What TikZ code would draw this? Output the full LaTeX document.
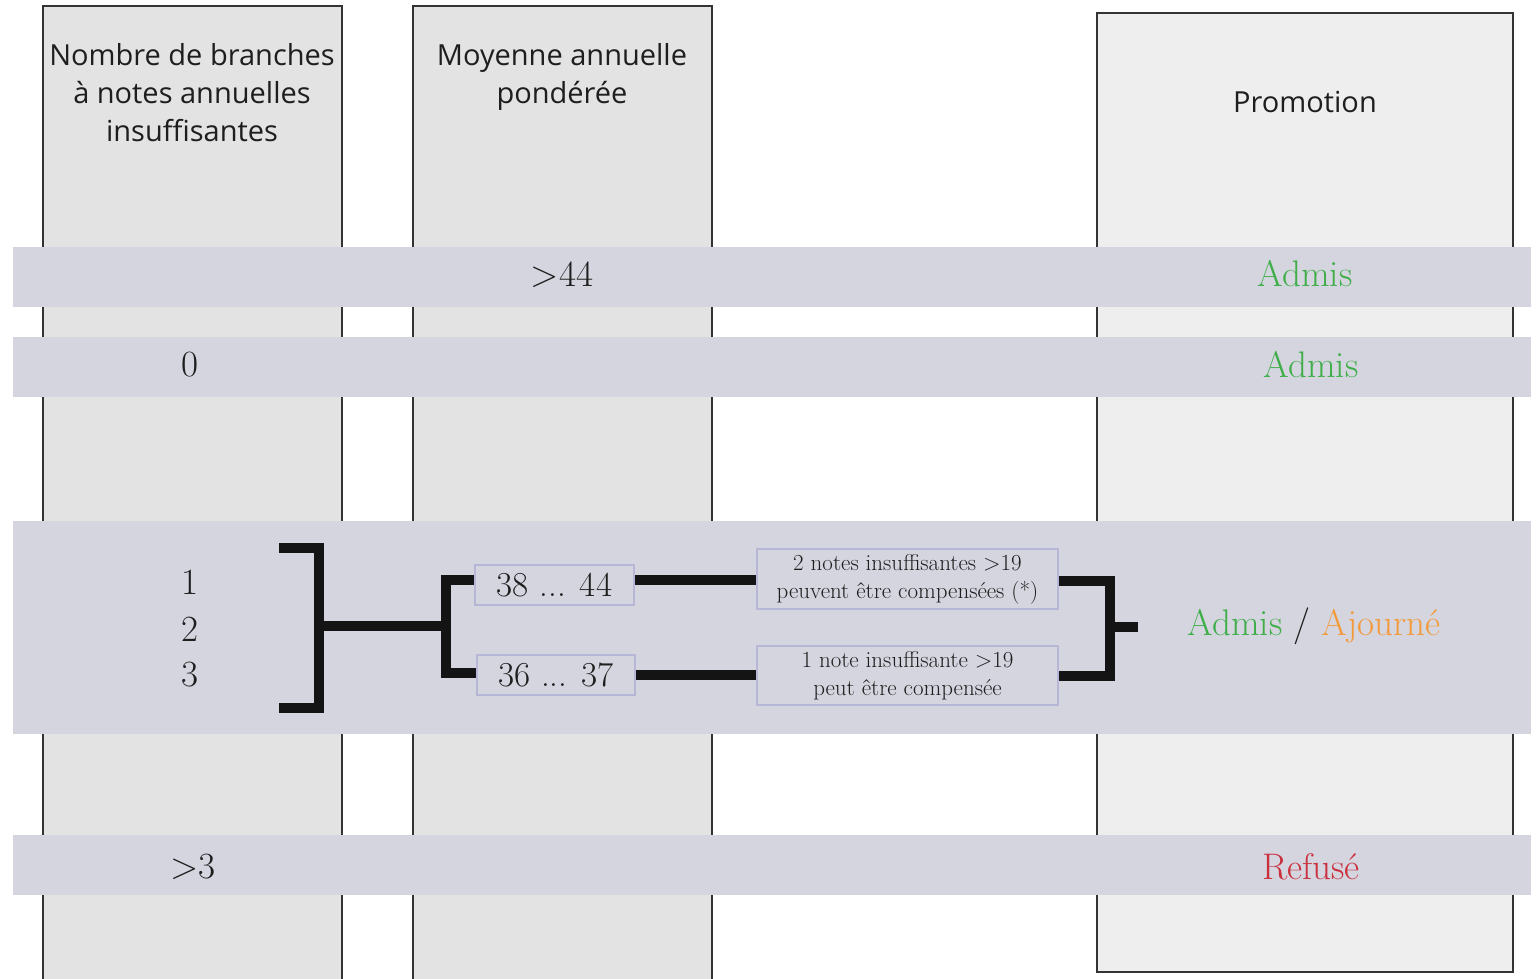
\documentclass[tikz,border=0pt]{standalone}
\usepackage{fontspec}
\newfontfamily\hdr{Open Sans}
\definecolor{colA}{HTML}{E3E3E3}
\definecolor{colB}{HTML}{EEEEEE}
\definecolor{bandc}{HTML}{D5D5E0}
\definecolor{boxc}{HTML}{B6B6D6}
\definecolor{gr}{HTML}{3FAE49}
\definecolor{orc}{HTML}{F39A3A}
\definecolor{rd}{HTML}{C9303C}
\definecolor{txt}{HTML}{1E1E1E}
\begin{document}
\begin{tikzpicture}[x=1pt,y=-1pt,
  col/.style={draw=black!80, line width=2pt},
  band/.style={fill=bandc, draw=none},
  hd/.style={font=\hdr\fontsize{29}{38}\selectfont, align=center, text=txt, inner sep=0pt},
  ser/.style={font=\fontsize{37}{40}\selectfont, text=txt, inner sep=0pt, anchor=base},
  small/.style={font=\fontsize{23}{28}\selectfont, align=center, text=txt},
  ibox/.style={draw=boxc, line width=1.6pt, inner sep=0pt},
  conn/.style={line width=10pt, draw=black!92, line join=miter, line cap=butt}]
\clip (0,0) rectangle (1540,978);
\fill[white] (0,0) rectangle (1540,978);
% columns
\filldraw[col, fill=colA] (43,1000) -- (43,6) -- (342,6) -- (342,1000);
\filldraw[col, fill=colA] (413,1000) -- (413,6) -- (712,6) -- (712,1000);
\filldraw[col, fill=colB] (1097,13) rectangle (1513,972);
% bands
\fill[band] (13,247) rectangle (1531,307);
\fill[band] (13,337) rectangle (1531,397);
\fill[band] (13,521) rectangle (1531,734);
\fill[band] (13,835) rectangle (1531,895);
% headers
\node[hd] (h1) at (192,93) {Nombre de branches\\à notes annuelles\\insuffisantes};
\node[hd] (h2) at (562,77) {Moyenne annuelle\\pondérée};
\node[hd] (h3) at (1305,102) {Promotion};
% row texts
\node[ser] (g44) at (562,286) {>44};
\node[ser, text=gr] (a1) at (1305,286) {Admis};
\node[ser] (z0) at (190,376) {0};
\node[ser, text=gr] (a2) at (1311,377) {Admis};
\node[ser] (n1) at (190,594) {1};
\node[ser] (n2) at (190,641) {2};
\node[ser] (n3) at (190,686) {3};
\node[ser] (g3) at (193,878) {>3};
\node[ser, text=rd] (rf) at (1311,879) {Refusé};
\node[ser] (aa) at (1314,635) {\textcolor{gr}{Admis} / \textcolor{orc}{Ajourné}};
% boxes
\node[ibox, minimum width=159, minimum height=40, font=\fontsize{35}{38}\selectfont, text=txt] (r1) at (554.5,585) {38 ... 44};
\node[ibox, minimum width=158, minimum height=40, font=\fontsize{35}{38}\selectfont, text=txt] (r2) at (556,675) {36 ... 37};
\node[ibox, small, minimum width=301, minimum height=60] (c1) at (907.5,579) {2 notes insuffisantes >19\\peuvent être compensées (*)};
\node[ibox, small, minimum width=301, minimum height=59] (c2) at (907.5,675.5) {1 note insuffisante >19\\peut être compensée};
% connectors
\coordinate (bt) at (279,548);
\coordinate (bb) at (279,708);
\coordinate (bm) at (319,626);
\coordinate (stub) at (1138,627);
\draw[conn] (bt) -- (319,548) -- (319,708) -- (bb);
\draw[conn] (bm) -- (446,626);
\draw[conn] (r1.west |- 0,580) -- (446,580) -- (446,673) -- (r2.west |- 0,673);
\draw[conn] (r1.east |- 0,580) -- (c1.west |- 0,580);
\draw[conn] (r2.east) -- (c2.west |- r2.east);
\draw[conn] (c1.east |- 0,581) -- (1110,581) -- (1110,676) -- (c2.east |- 0,676);
\draw[conn] (1110,627) -- (stub);
\end{tikzpicture}
\end{document}
